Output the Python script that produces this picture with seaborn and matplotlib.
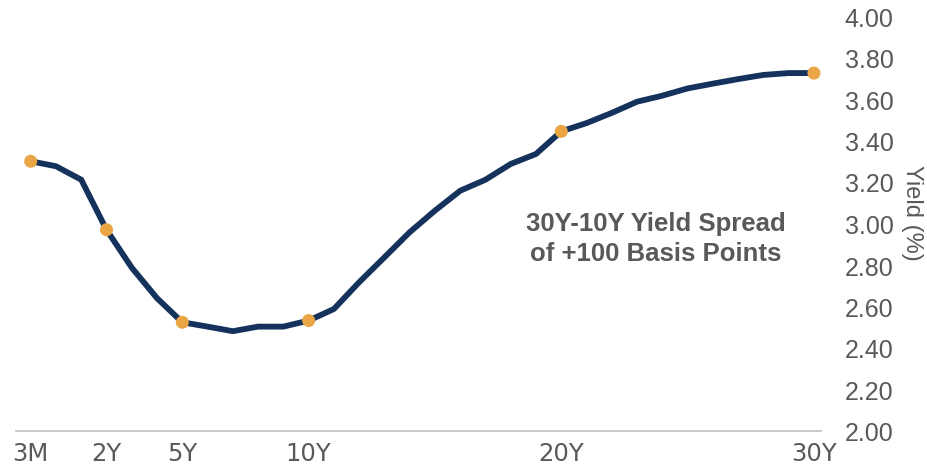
import matplotlib
matplotlib.use("Agg")
import matplotlib.pyplot as plt
import seaborn as sns
import pandas as pd

# Data
maturities = ["3M", "6M", "1Y", "2Y", "3Y", "4Y", "5Y", "6Y", "7Y", "8Y", "9Y",
              "10Y", "11Y", "12Y", "13Y", "14Y", "15Y", "16Y", "17Y", "18Y", "19Y",
              "20Y", "21Y", "22Y", "23Y", "24Y", "25Y", "26Y", "27Y", "28Y", "29Y", "30Y"]
yields = [3.30, 3.276, 3.211, 2.970, 2.787, 2.640, 2.524, 2.503, 2.481, 2.503, 2.503,
          2.532, 2.588, 2.717, 2.837, 2.958, 3.062, 3.158, 3.211, 3.287, 3.335,
          3.444, 3.484, 3.533, 3.587, 3.616, 3.651, 3.674, 3.696, 3.716, 3.725, 3.725]
highlighted = ["3M", "2Y", "5Y", "10Y", "20Y", "30Y"]
y_ticks = [2.0, 2.2, 2.4, 2.6, 2.8, 3.0, 3.2, 3.4, 3.6, 3.8, 4.0]

df = pd.DataFrame({"maturity": maturities, "yield": yields})
df["pos"] = range(len(df))
dots = df[df["maturity"].isin(highlighted)]

sns.set_style("white")
plt.rcParams["font.family"] = ["Liberation Sans", "DejaVu Sans"]

text_color = "#595959"
fig = plt.figure(figsize=(9.27, 4.77), dpi=100)
ax = fig.add_axes([15.7 / 927, 1 - 432 / 477, (821 - 15.7) / 927, (432 - 17) / 477])

sns.lineplot(data=df, x="pos", y="yield", color="#14325c", linewidth=4.2, ax=ax, zorder=2)
sns.scatterplot(data=dots, x="pos", y="yield", color="#eaa545", s=88, edgecolor="none",
                ax=ax, zorder=3)

ax.set_xlim(-0.594, 31.28)
ax.set_ylim(2.0, 4.0)

# x axis
ax.set_xticks(dots["pos"].tolist())
ax.set_xticklabels(highlighted, fontsize=17.5, color=text_color, family="Liberation Sans Narrow")
ax.tick_params(axis="x", length=0, pad=7)
ax.set_xlabel("")

# y axis on the right
ax.yaxis.tick_right()
ax.set_yticks(y_ticks)
ax.set_yticklabels([f"{v:.2f}" for v in y_ticks], fontsize=18, color=text_color)
ax.tick_params(axis="y", length=0, pad=17)
ax.yaxis.set_label_position("right")
ax.set_ylabel("Yield (%)", rotation=270, fontsize=17, color=text_color)
ax.yaxis.set_label_coords(1.113, 0.528)
ax.yaxis.label.set_ha("center")
ax.yaxis.label.set_va("center")

for side in ["top", "left", "right"]:
    ax.spines[side].set_visible(False)
ax.spines["bottom"].set_color("#c0c0c0")
ax.spines["bottom"].set_linewidth(1.2)
ax.grid(False)

ax.text(24.75, 2.932, "30Y-10Y Yield Spread\nof +100 Basis Points", ha="center", va="center",
        fontsize=18.5, fontweight="bold", color=text_color, linespacing=1.32)

fig.savefig("out.png", dpi=100)
